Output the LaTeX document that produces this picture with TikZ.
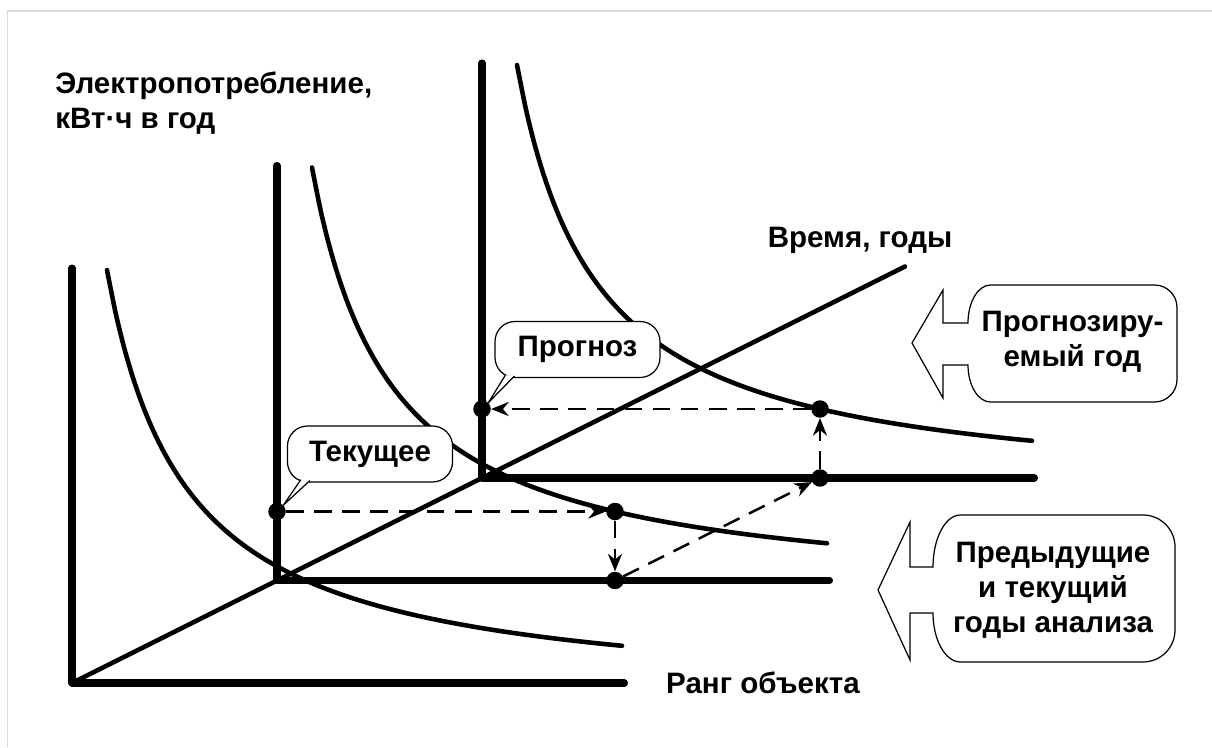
\documentclass[tikz,border=0pt]{standalone}
\usepackage{fontspec}
\setmainfont{Liberation Sans}
\usetikzlibrary{arrows.meta,calc}

\begin{document}
\begin{tikzpicture}[
    axis/.style={line width=4pt, line cap=round, line join=round},
    curve/.style={line width=2.6pt, line cap=round},
    link/.style={line width=1.4pt, dash pattern=on 10pt off 6pt, -{Stealth[length=10pt, width=8pt]}},
    dot/.style={circle, fill=black, inner sep=0pt, minimum size=0.35cm},
    txt/.style={font=\bfseries\fontsize{16.8}{20}\selectfont, align=center, inner sep=0pt},
    bubble/.style={draw, fill=white, line width=0.7pt, rounded corners=0.4cm, minimum width=3.3cm, minimum height=1.12cm, font=\bfseries\fontsize{16.8}{20}\selectfont},
    callout/.style={draw, fill=white, line width=0.7pt, line join=miter}]

    \useasboundingbox (0,0) rectangle (24.24,14.94);
    \draw[black!15, line width=0.6pt] (0.15,0) -- (0.15,14.72) -- (24.24,14.72);

    % three years: axes and curves
    \foreach \s in {0,1,2} {
        \begin{scope}[shift={(1.44+4.1*\s, 1.28+2.05*\s)}]
            \draw[axis] (0,8.3) -- (0,0) -- (11.05,0);
            \draw[curve, domain=0.7:11, samples=60, smooth] plot (\x, {13.579/(\x+0.868)-0.4});
        \end{scope}
    }

    % time axis
    \draw[curve] (1.44,1.28) -- (18.10,9.61);

    % axis labels
    \node[txt, align=left, anchor=west] (ylabel) at (1.10,12.88) {Электропотребление,\\кВт·ч в год};
    \node[txt] (tlabel) at (17.20,10.14) {Время, годы};
    \node[txt] (xlabel) at (15.26,1.28) {Ранг объекта};

    % points
    \node[dot] (pcur) at (5.54,4.71) {};
    \node[dot] (pcurve) at (12.30,4.71) {};
    \node[dot] (pbase) at (12.30,3.33) {};
    \node[dot] (pnext) at (16.40,5.38) {};
    \node[dot] (pfcurve) at (16.40,6.76) {};
    \node[dot] (pfc) at (9.64,6.76) {};

    % dashed moves
    \draw[link] (pcur) -- (pcurve);
    \draw[link] (pcurve) -- (pbase);
    \draw[link] (pbase) -- (pnext);
    \draw[link] (pnext) -- (pfcurve);
    \draw[link] (pfcurve) -- (pfc);

    % bubbles
    \node[bubble] (tek) at (7.40,5.86) {Текущее};
    \draw[callout] ($(tek.south west)+(0.46,0.04)$) -- (pcur.north east) -- ($(tek.south west)+(0.28,0.06)$);
    \node[bubble] (prog) at (11.55,7.95) {Прогноз};
    \draw[callout] ($(prog.south west)+(0.40,0.04)$) -- (pfc.north east) -- ($(prog.south west)+(0.22,0.06)$);

    % arrow boxes on the right
    \draw[callout] (19.36,8.48) arc[start angle=180, end angle=90, x radius=0.45, y radius=0.76]
        -- (23.09,9.24) arc[start angle=90, end angle=0, radius=0.45]
        -- (23.54,7.35) arc[start angle=0, end angle=-90, radius=0.45]
        -- (19.81,6.90) arc[start angle=270, end angle=180, x radius=0.45, y radius=0.74]
        -- (18.86,7.64) -- (18.86,6.98) -- (18.24,8.08) -- (18.86,9.14) -- (18.86,8.48) -- cycle;
    \node[txt] (fyear) at (21.45,8.10) {Прогнозиру-\\емый год};

    \draw[callout] (18.66,3.60) arc[start angle=180, end angle=90, x radius=0.55, y radius=1.04]
        -- (22.86,4.64) arc[start angle=90, end angle=0, radius=0.64]
        -- (23.50,2.34) arc[start angle=0, end angle=-90, radius=0.64]
        -- (19.21,1.70) arc[start angle=270, end angle=180, x radius=0.55, y radius=0.98]
        -- (18.20,2.68) -- (18.20,1.74) -- (17.56,3.14) -- (18.20,4.50) -- (18.20,3.60) -- cycle;
    \node[txt] (pyears) at (21.06,3.14) {Предыдущие\\и текущий\\годы анализа};
\end{tikzpicture}
\end{document}
